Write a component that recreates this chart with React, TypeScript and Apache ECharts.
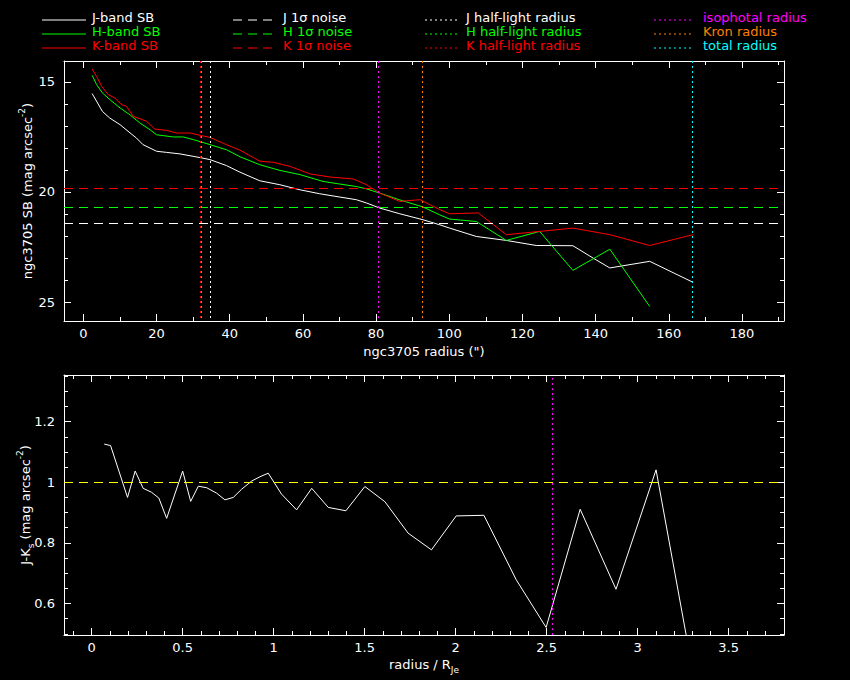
import React, { useEffect, useRef } from "react";
import * as echarts from "echarts";

// ---------- data ----------
const jRadius = [2.4, 5.2, 7.2, 10.0, 12.2, 14.5, 16.3, 20.0, 22.7, 26.4, 30.0, 32.3, 34.6, 39.1, 42.8, 48.2, 53.7, 59.2, 64.6, 70.1, 74.6, 77.4, 81.0, 86.5, 92.8, 97.4, 100.1, 107.4, 115.6, 123.8, 133.8, 139.3, 143.9, 154.8, 166.6];
const jSB = [15.53, 16.34, 16.64, 16.94, 17.24, 17.55, 17.85, 18.15, 18.2, 18.27, 18.38, 18.45, 18.53, 18.8, 19.1, 19.49, 19.67, 19.9, 20.08, 20.23, 20.35, 20.5, 20.73, 20.99, 21.26, 21.49, 21.64, 22.02, 22.2, 22.43, 22.44, 23.0, 23.45, 23.15, 24.1];

const hRadius = [2.4, 3.6, 5.2, 7.2, 10.0, 12.7, 15.4, 18.2, 20.0, 21.8, 24.5, 27.3, 30.0, 32.3, 34.6, 39.1, 42.8, 48.2, 53.7, 59.2, 65.5, 70.1, 74.6, 77.4, 81.0, 86.5, 92.8, 97.4, 100.1, 107.4, 115.6, 124.7, 133.8, 143.9, 154.8];
const hSB = [14.7, 15.12, 15.5, 15.8, 16.18, 16.49, 16.86, 17.17, 17.4, 17.44, 17.5, 17.5, 17.62, 17.73, 17.85, 18.08, 18.4, 18.76, 19.02, 19.21, 19.52, 19.64, 19.75, 19.86, 20.05, 20.36, 20.68, 21.04, 21.23, 21.34, 22.2, 21.79, 23.56, 22.6, 25.2];

const kRadius = [2.4, 3.6, 5.0, 6.8, 8.6, 10.4, 11.8, 13.6, 17.3, 19.5, 22.7, 25.5, 29.1, 32.3, 34.6, 39.1, 42.8, 48.2, 51.9, 56.5, 62.0, 67.4, 73.8, 77.4, 81.0, 86.5, 88.3, 92.0, 97.4, 100.1, 107.9, 115.6, 124.7, 133.8, 143.9, 154.8, 166.6];
const kSB = [14.41, 14.75, 15.2, 15.58, 15.73, 16.03, 16.11, 16.56, 16.79, 17.14, 17.2, 17.32, 17.32, 17.44, 17.52, 17.85, 18.1, 18.6, 18.65, 18.84, 19.18, 19.32, 19.41, 19.67, 20.05, 20.43, 20.4, 20.35, 20.8, 20.99, 20.95, 21.94, 21.79, 21.64, 21.94, 22.43, 21.94];

// 1-sigma noise levels (mag arcsec^-2)
const noiseJ = 21.41;
const noiseH = 20.68;
const noiseK = 19.82;

// characteristic radii (arcsec)
const halfLightJ = 34.6;
const halfLightH = 32.2;
const halfLightK = 31.9;
const isophotalRadius = 80.7;
const kronRadius = 92.7;
const totalRadius = 166.5;

// J-Ks colour profile vs radius / R_Je
const colourRadius = [0.069, 0.104, 0.197, 0.239, 0.283, 0.329, 0.369, 0.412, 0.5, 0.544, 0.586, 0.632, 0.687, 0.732, 0.778, 0.824, 0.879, 0.924, 0.97, 1.043, 1.126, 1.209, 1.3, 1.397, 1.501, 1.611, 1.739, 1.867, 2.003, 2.155, 2.333, 2.497, 2.684, 2.881, 3.101, 3.32];
const colourJK = [1.126, 1.121, 0.95, 1.037, 0.98, 0.967, 0.948, 0.881, 1.037, 0.937, 0.987, 0.982, 0.964, 0.942, 0.95, 0.977, 1.004, 1.018, 1.03, 0.961, 0.909, 0.98, 0.917, 0.906, 0.986, 0.936, 0.832, 0.777, 0.889, 0.891, 0.678, 0.521, 0.911, 0.647, 1.041, 0.32];
const colourRef = 1.0;
const isophotalScaled = 2.534;

// tick labels
const topXMajor = [0, 20, 40, 60, 80, 100, 120, 140, 160, 180];
const topXMinor = [10, 30, 50, 70, 90, 110, 130, 150, 170, 190];
const topYMajor = [15, 20, 25];
const topYMinor = [16, 17, 18, 19, 21, 22, 23, 24];
const botXMajor = [0, 0.5, 1, 1.5, 2, 2.5, 3, 3.5];
const botXMinor = [-0.1, 0.1, 0.2, 0.3, 0.4, 0.6, 0.7, 0.8, 0.9, 1.1, 1.2, 1.3, 1.4, 1.6, 1.7, 1.8, 1.9, 2.1, 2.2, 2.3, 2.4, 2.6, 2.7, 2.8, 2.9, 3.1, 3.2, 3.3, 3.4, 3.6, 3.7];
const botYMajor = [0.6, 0.8, 1, 1.2];
const botYMinor = [0.5, 0.55, 0.65, 0.7, 0.75, 0.85, 0.9, 0.95, 1.05, 1.1, 1.15, 1.25, 1.3, 1.35];

const legendSolid = [
  { text: "J-band SB", color: "#ffffff" },
  { text: "H-band SB", color: "#00ff00" },
  { text: "K-band SB", color: "#ff0000" },
];
const legendNoise = [
  { text: "J 1\u03c3 noise", color: "#ffffff" },
  { text: "H 1\u03c3 noise", color: "#00ff00" },
  { text: "K 1\u03c3 noise", color: "#ff0000" },
];
const legendHalf = [
  { text: "J half-light radius", color: "#ffffff" },
  { text: "H half-light radius", color: "#00ff00" },
  { text: "K half-light radius", color: "#ff0000" },
];
const legendRadii = [
  { text: "isophotal radius", color: "#ff00ff" },
  { text: "Kron radius", color: "#ff8000" },
  { text: "total radius", color: "#00ffff" },
];

const FONT = "'DejaVu Sans', sans-serif";
const WHITE = "#ffffff";
const DASH = [9, 6];
const DOT = [2, 3];

const zip = (a: number[], b: number[]) => a.map((v, i) => [v, b[i]]);

function makeAxes(
  dim: "x" | "y",
  gridIndex: number,
  min: number,
  max: number,
  majors: number[],
  minors: number[],
  inverse: boolean,
  labelMargin: number,
  name: string,
  nameGap: number,
  rich: any
) {
  const main = dim === "x" ? "bottom" : "left";
  const opp = dim === "x" ? "top" : "right";
  const base = {
    type: "value",
    gridIndex,
    min,
    max,
    inverse,
    scale: true,
    splitLine: { show: false },
  };
  const axisLine = { show: true, onZero: false, lineStyle: { color: WHITE, width: 1 } };
  const noLine = { show: false, onZero: false };
  const tick = (vals: number[], len: number) => ({
    show: true,
    inside: true,
    length: len,
    customValues: vals,
    lineStyle: { color: WHITE, width: 1 },
  });
  return [
    {
      ...base,
      position: main,
      axisLine,
      axisTick: tick(majors, 7),
      axisLabel: {
        show: true,
        customValues: majors,
        color: WHITE,
        fontFamily: FONT,
        fontSize: 13,
        margin: labelMargin,
      },
      name,
      nameLocation: "middle",
      nameGap,
      nameMoveOverlap: false,
      nameTextStyle: { color: WHITE, fontFamily: FONT, fontSize: 13, rich },
    },
    { ...base, position: main, axisLine: noLine, axisTick: tick(minors, 4), axisLabel: { show: false } },
    { ...base, position: opp, axisLine, axisTick: tick(majors, 7), axisLabel: { show: false } },
    { ...base, position: opp, axisLine: noLine, axisTick: tick(minors, 4), axisLabel: { show: false } },
  ];
}

const richText = {
  a: { color: WHITE, fontFamily: FONT, fontSize: 13, lineHeight: 20, verticalAlign: "middle" },
  sup: { color: WHITE, fontFamily: FONT, fontSize: 9, lineHeight: 20, verticalAlign: "top" },
  sub: { color: WHITE, fontFamily: FONT, fontSize: 9, lineHeight: 20, verticalAlign: "bottom" },
};

function legendGraphics() {
  const els: any[] = [];
  const rowY = [20, 34, 48];
  const cols = [
    { items: legendSolid, x1: 42, x2: 86, tx: 92, dash: null as any },
    { items: legendNoise, x1: 233, x2: 278, tx: 283, dash: DASH },
    { items: legendHalf, x1: 425, x2: 457, tx: 466, dash: DOT },
    { items: legendRadii, x1: 654, x2: 694, tx: 703, dash: DOT },
  ];
  cols.forEach((c) => {
    c.items.forEach((it, i) => {
      els.push({
        type: "line",
        silent: true,
        shape: { x1: c.x1, y1: rowY[i], x2: c.x2, y2: rowY[i] },
        style: { stroke: it.color, lineWidth: 1, lineDash: c.dash || undefined },
      });
      els.push({
        type: "text",
        silent: true,
        x: c.tx,
        y: rowY[i] - 3,
        style: {
          text: it.text,
          fill: it.color,
          fontFamily: FONT,
          fontSize: 13,
          lineHeight: 13,
          verticalAlign: "middle",
          align: "left",
        },
      });
    });
  });
  return els;
}

export default function App() {
  const ref = useRef<HTMLDivElement>(null);
  useEffect(() => {
    if (!ref.current) return;
    const chart = echarts.init(ref.current, null, { renderer: "svg" });

    const xAxes = [
      ...makeAxes("x", 0, -5.3, 191.5, topXMajor, topXMinor, false, 6, 'ngc3705 radius (")', 24, richText),
      ...makeAxes("x", 1, -0.152, 3.804, botXMajor, botXMinor, false, 6, "{a|radius / R}{sub|Je}", 19, richText),
    ];
    const yAxes = [
      ...makeAxes("y", 0, 14.05, 25.86, topYMajor, topYMinor, true, 9, "{a|ngc3705 SB (mag arcsec}{sup|-2}{a|)}", 27, richText),
      ...makeAxes("y", 1, 0.496, 1.354, botYMajor, botYMinor, false, 9, "{a|J-K}{sub|s}{a| (mag arcsec}{sup|-2}{a|)}", 29, richText),
    ];

    const mlBase = { symbol: "none", silent: true, label: { show: false }, animation: false };

    chart.setOption({
      animation: false,
      backgroundColor: "#000000",
      textStyle: { fontFamily: FONT },
      grid: [
        { left: 64, top: 61, width: 720, height: 260, containLabel: false },
        { left: 64, top: 375, width: 720, height: 260, containLabel: false },
      ],
      xAxis: xAxes,
      yAxis: yAxes,
      graphic: legendGraphics(),
      series: [
        {
          name: "J-band SB",
          type: "line",
          xAxisIndex: 0,
          yAxisIndex: 0,
          data: zip(jRadius, jSB),
          showSymbol: false,
          symbol: "none",
          lineStyle: { color: "#ffffff", width: 1 },
          markLine: {
            ...mlBase,
            data: [
              { yAxis: noiseJ, lineStyle: { color: "#ffffff", type: DASH, width: 1 } },
              { xAxis: halfLightJ, lineStyle: { color: "#ffffff", type: DOT, width: 1 } },
              { xAxis: isophotalRadius, lineStyle: { color: "#ff00ff", type: DOT, width: 1 } },
              { xAxis: kronRadius, lineStyle: { color: "#ff8000", type: DOT, width: 1 } },
              { xAxis: totalRadius, lineStyle: { color: "#00ffff", type: DOT, width: 1 } },
            ],
          },
        },
        {
          name: "H-band SB",
          type: "line",
          xAxisIndex: 0,
          yAxisIndex: 0,
          data: zip(hRadius, hSB),
          showSymbol: false,
          symbol: "none",
          lineStyle: { color: "#00ff00", width: 1 },
          markLine: {
            ...mlBase,
            data: [
              { yAxis: noiseH, lineStyle: { color: "#00ff00", type: DASH, width: 1 } },
              { xAxis: halfLightH, lineStyle: { color: "#00ff00", type: DOT, width: 1 } },
            ],
          },
        },
        {
          name: "K-band SB",
          type: "line",
          xAxisIndex: 0,
          yAxisIndex: 0,
          data: zip(kRadius, kSB),
          showSymbol: false,
          symbol: "none",
          lineStyle: { color: "#ff0000", width: 1 },
          markLine: {
            ...mlBase,
            data: [
              { yAxis: noiseK, lineStyle: { color: "#ff0000", type: DASH, width: 1 } },
              { xAxis: halfLightK, lineStyle: { color: "#ff0000", type: DOT, width: 1 } },
            ],
          },
        },
        {
          name: "J-Ks",
          type: "line",
          xAxisIndex: 4,
          yAxisIndex: 4,
          data: zip(colourRadius, colourJK),
          showSymbol: false,
          symbol: "none",
          clip: true,
          lineStyle: { color: "#ffffff", width: 1 },
          markLine: {
            ...mlBase,
            data: [
              { yAxis: colourRef, lineStyle: { color: "#ffff00", type: DASH, width: 1 } },
              { xAxis: isophotalScaled, lineStyle: { color: "#ff00ff", type: DOT, width: 1 } },
            ],
          },
        },
      ],
    });
    return () => chart.dispose();
  }, []);

  return (
    <div
      ref={ref}
      style={{ position: "fixed", left: 0, top: 0, width: 850, height: 680, background: "#000" }}
    />
  );
}
